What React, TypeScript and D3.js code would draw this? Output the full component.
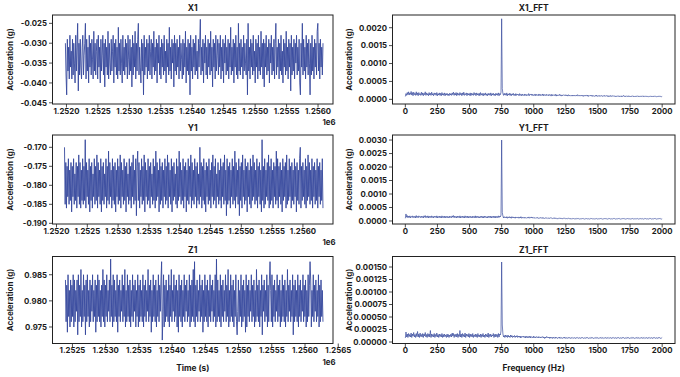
import React from "react";
import * as d3 from "d3";

// ---------------- DATA ----------------
// Time-domain signals, uniformly sampled between start/end times (s).
// Values are in milli-g (mg).
const MG = 0.001;
const X1_T = [1251983, 1256079];
const Y1_T = [1252130, 1256325];
const Z1_T = [1252395, 1256270];

const X1_MG = [
  -30,-38,-43,-29,-37,-31,-39,-28,-36,-32, -39,-29,-38,-30,-35,-40,-28,-37,-31,-25,
  -42,-30,-38,-29,-36,-39,-31,-28,-38,-33, -30,-25,-39,-29,-37,-31,-40,-28,-36,-30,
  -38,-29,-34,-39,-27,-37,-30,-38,-32,-29, -39,-28,-36,-31,-40,-29,-37,-33,-28,-38,
  -30,-41,-29,-36,-31,-38,-27,-39,-30,-35, -38,-29,-37,-32,-28,-40,-30,-36,-29,-38,
  -31,-39,-26,-37,-30,-38,-29,-35,-40,-28, -37,-31,-38,-29,-36,-30,-39,-28,-34,-38,
  -29,-37,-31,-41,-28,-38,-30,-36,-27,-39, -30,-37,-29,-25,-38,-31,-36,-40,-29,-37,
  -30,-43,-28,-38,-31,-36,-29,-39,-30,-37, -28,-38,-32,-29,-39,-30,-36,-27,-38,-31,
  -37,-29,-40,-30,-35,-28,-38,-31,-39,-29, -36,-30,-38,-28,-37,-32,-40,-29,-36,-30,
  -38,-26,-37,-31,-39,-29,-35,-30,-41,-28, -37,-30,-38,-29,-36,-31,-39,-28,-37,-30,
  -34,-39,-29,-38,-30,-36,-27,-40,-31,-37, -29,-38,-30,-43,-28,-37,-31,-39,-29,-36,
  -30,-38,-28,-37,-32,-39,-29,-36,-30,-24, -38,-31,-37,-29,-40,-30,-35,-28,-38,-31,
  -39,-29,-36,-30,-38,-27,-37,-31,-41,-29, -36,-30,-39,-28,-37,-33,-29,-38,-30,-36,
  -28,-39,-31,-37,-29,-40,-30,-35,-28,-38, -31,-37,-29,-39,-30,-36,-26,-38,-31,-37,
  -29,-40,-30,-36,-28,-38,-31,-39,-25,-37, -30,-38,-29,-36,-31,-39,-28,-37,-30,-35,
  -38,-29,-43,-25,-37,-31,-39,-29,-36,-30, -38,-28,-37,-32,-40,-29,-36,-30,-39,-28,
  -37,-31,-38,-27,-36,-30,-39,-29,-41,-30, -36,-28,-38,-31,-37,-29,-40,-30,-35,-28,
  -38,-31,-37,-29,-39,-30,-25,-38,-31,-36, -29,-39,-30,-37,-28,-38,-32,-40,-29,-36,
  -30,-38,-27,-37,-31,-39,-29,-36,-30,-42, -28,-38,-31,-37,-29,-39,-30,-35,-28,-38,
  -31,-37,-29,-40,-43,-30,-36,-25,-38,-29, -37,-31,-39,-28,-36,-30,-38,-29,-35,-43,
  -30,-38,-28,-37,-31,-39,-29,-36,-30,-38, -27,-25,-37,-30,-39,-29,-36,-31,-38,-30,
];

const Y1_MG = [
  -170,-185,-174,-186,-175,-183,-173,-185,-176,-184, -174,-187,-175,-183,-173,-185,-177,-184,-174,-186,
  -175,-183,-172,-185,-174,-186,-176,-184,-173,-185, -175,-184,-168,-186,-174,-183,-176,-185,-173,-187,
  -175,-184,-174,-186,-177,-183,-173,-185,-175,-184, -172,-186,-174,-183,-176,-185,-173,-187,-175,-184,
  -174,-185,-177,-183,-173,-186,-175,-184,-171,-185, -174,-183,-176,-186,-173,-184,-175,-185,-174,-187,
  -176,-183,-173,-185,-175,-184,-172,-186,-174,-183, -176,-185,-173,-184,-175,-187,-174,-183,-177,-185,
  -173,-184,-175,-186,-174,-183,-172,-185,-176,-184, -173,-188,-175,-171,-184,-174,-186,-176,-183,-173,
  -185,-175,-184,-172,-187,-174,-183,-176,-185,-173, -184,-175,-186,-174,-183,-177,-185,-173,-184,-175,
  -186,-171,-184,-174,-183,-176,-187,-173,-185,-175, -184,-174,-186,-176,-183,-173,-185,-175,-184,-172,
  -186,-174,-183,-176,-185,-173,-187,-175,-184,-174, -183,-177,-185,-173,-186,-175,-184,-171,-183,-174,
  -185,-176,-184,-173,-186,-175,-183,-174,-187,-176, -184,-173,-185,-175,-183,-172,-186,-174,-184,-176,
  -185,-173,-183,-175,-186,-174,-184,-177,-185,-170, -183,-174,-186,-175,-184,-173,-185,-176,-187,-174,
  -183,-175,-185,-173,-184,-176,-186,-174,-183,-172, -185,-175,-184,-173,-186,-177,-183,-174,-185,-176,
  -184,-173,-186,-175,-183,-174,-185,-172,-184,-176, -188,-173,-185,-175,-184,-174,-186,-176,-183,-173,
  -185,-175,-184,-171,-186,-174,-183,-176,-185,-173, -188,-175,-184,-174,-186,-172,-183,-176,-185,-173,
  -184,-175,-187,-174,-183,-176,-185,-173,-186,-175, -184,-172,-183,-174,-185,-176,-184,-173,-186,-175,
  -183,-174,-185,-176,-187,-168,-184,-175,-186,-173, -185,-176,-183,-174,-184,-172,-186,-175,-185,-173,
  -184,-176,-186,-174,-183,-175,-185,-171,-184,-173, -186,-175,-183,-174,-185,-176,-187,-173,-184,-175,
  -183,-174,-186,-172,-185,-176,-184,-173,-183,-175, -186,-174,-184,-176,-185,-173,-183,-175,-187,-174,
  -184,-176,-185,-173,-170,-186,-175,-184,-174,-183, -176,-185,-173,-186,-175,-184,-172,-183,-174,-185,
  -176,-184,-173,-186,-175,-183,-174,-185,-176,-184, -173,-186,-175,-183,-174,-185,-176,-184,-173,-186,
];

const Z1_MG = [
  984,976,983,974,985,977,982,975,984,976, 983,977,985,975,984,976,982,978,984,973.5,
  985,976,983,977,986,975,982,976,985,977, 983,973.5,984,976,985,977,982,975,984,976,
  983,978,985,976,982,977,984,974,983,976, 985,977,984,976,982,975,983,977,986,976,
  984,975,983,977,985,976,982,978,984,976, 988,977,983,975,985,976,984,977,982,976,
  985,974,983,977,984,976,982,978,985,976, 983,977,986,975,982,976,985,977,983,976,
  984,975,982,977,985,976,983,978,984,975, 982,977,985,975,983,976,984,977,982,976,
  985,975,983,977,984,976,982,978,986,976, 983,977,984,974,982,976,985,977,983,976,
  984,975,982,977,985,976,983,978,984,987.5, 972.5,977,985,975,983,976,984,977,982,976,
  985,975,983,977,986,976,982,978,985,976, 983,977,984,975,982,974,985,977,983,976,
  984,975,982,977,985,976,983,978,984,976, 982,977,985,975,983,976,984,977,986,976,
  987.5,975,983,977,984,976,982,978,985,976, 983,977,984,974,982,976,985,977,983,976,
  984,975,982,977,985,976,983,978,984,976, 982,977,985,975,988,976,984,977,982,976,
  985,975,983,977,984,976,982,978,985,976, 983,977,986,975,982,976,985,977,983,976,
  984,975,982,977,985,976,973.5,978,984,976, 982,977,985,975,983,976,984,977,982,974,
  985,975,983,977,984,976,982,978,985,976, 983,977,984,975,982,976,986,977,983,976,
  984,975,982,977,985,973.5,983,978,984,976, 982,977,985,975,983,976,984,987.5,982,976,
  985,975,983,977,984,976,982,978,985,976, 983,977,984,975,982,976,985,977,983,976,
  984,975,982,977,986,976,983,978,984,976, 982,977,985,973.5,983,976,984,977,982,976,
  985,975,983,977,984,976,982,978,985,976, 983,977,984,975,982,976,985,977,983,987.5,
  984,975,982,977,985,976,983,978,984,976, 982,977,985,975,983,976,984,977,982,976,
];

// FFT spectra, frequencies 0..2000 Hz in 5 Hz bins. Values in 1e-5 g.
const FFT_UNIT = 1e-5;
const FFT_F = [0, 2000];

const X1_FFT = [
  8,16,11,19,13,21,12,18,14,22,12,19,10,20,13,17,11,21,12,18,
  10,19,13,16,11,20,12,18,10,17,13,21,11,18,12,16,10,19,12,17,
  11,20,12,16,10,18,13,17,11,19,10,16,12,18,11,17,10,19,12,16,
  11,18,10,16,12,17,11,15,10,17,12,16,11,18,13,20,11,17,12,19,
  10,18,12,16,11,19,13,17,10,18,12,20,11,16,13,18,10,17,12,16,
  11,18,10,17,12,16,11,19,13,17,10,18,12,16,11,17,10,19,12,16,
  11,17,10,16,12,18,11,15,10,17,12,16,11,18,10,16,12,17,11,15,
  10,17,12,16,11,18,10,16,13,20,
  225,
  30,16,11,17,12,16,11,18,10,15, 12,17,11,16,10,15,12,17,11,14, 10,16,11,15,12,14,10,16,11,14,
  10,15,11,13,10,15,11,14,10,13, 11,16,10,14,12,15,11,14,10,13, 11,15,10,14,11,13,10,15,11,14,
  10,13,11,15,10,14,11,13,10,14, 11,13,10,14,11,13,9,14,10,13, 11,13,10,14,9,13,10,12,11,14,
  10,13,9,12,10,13,11,12,10,13,
  10,12,9,13,10,12,9,11,10,12, 9,12,10,11,9,12,10,13,9,11, 10,12,9,11,10,12,8,11,9,12,
  10,11,9,12,8,11,9,11,10,12, 8,11,9,10,8,11,9,12,8,10, 9,11,8,10,9,11,8,10,9,11,
  8,10,9,11,8,10,7,10,8,11, 8,10,9,10,8,10,7,9,8,10, 8,10,7,9,8,10,7,9,8,11,
  8,9,7,10,8,9,7,10,8,9, 7,9,8,10,7,9,8,9,7,9, 8,10,7,9,8,9,7,9,8,10,
  7,9,8,9,7,9,8,9,7,8, 8,9,7,9,8,9,7,9,8,9, 7,8,8,9,7,9,8,9,7,8,
];

const Y1_FFT = [
  10,26,14,20,12,18,13,19,11,17,14,19,12,17,13,18,11,20,13,17,
  12,19,14,17,12,18,13,17,11,19,14,20,12,17,13,19,11,18,13,17,
  12,19,13,17,11,18,14,17,12,19,11,17,13,18,12,17,11,19,13,17,
  12,18,11,17,13,18,12,16,11,18,13,17,12,19,14,20,12,18,13,17,
  11,18,13,17,12,19,11,17,13,18,12,17,11,19,13,17,12,18,11,17,
  13,18,12,16,11,18,13,17,12,19,11,17,13,18,12,16,11,17,13,18,
  12,17,11,18,13,17,12,16,11,18,13,17,12,18,11,17,13,18,12,17,
  11,18,13,17,12,19,13,18,15,22,
  300,
  32,18,11,16,12,15,11,16,10,15, 12,16,11,15,10,16,12,15,11,14, 10,15,11,14,12,15,10,14,11,16,
  10,14,11,13,10,14,11,13,10,13, 11,15,10,14,12,15,11,14,10,13, 11,13,10,12,11,13,9,12,10,13,
  11,12,9,13,10,12,9,12,10,11, 9,12,10,11,9,12,10,11,9,11, 10,12,8,11,9,11,8,10,9,11,
  8,10,9,11,8,10,9,10,8,10,
  9,10,8,10,8,9,8,10,7,9, 8,9,7,9,8,10,7,9,8,9, 7,9,8,9,7,9,8,9,7,9,
  8,9,7,8,8,9,7,9,8,9, 7,9,8,9,7,8,8,9,7,9, 8,9,7,9,8,9,7,8,8,9,
  7,9,8,9,7,9,8,9,7,8, 8,9,7,9,8,9,7,8,8,9, 7,9,8,9,7,8,8,9,7,9,
  8,9,7,8,8,9,7,9,8,9, 7,8,8,9,7,9,8,9,7,8, 8,9,7,9,8,9,7,8,8,9,
  7,9,8,9,7,8,8,9,7,9, 8,9,7,8,8,9,7,9,8,9, 7,8,8,9,7,9,8,9,7,8,
];

const Z1_FFT = [
  8,20,10,16,9,17,11,15,10,18, 9,16,12,19,10,15,9,17,11,21, 10,16,9,18,11,15,10,17,9,16, 12,19,10,15,9,17,11,16,10,23,
  9,16,11,15,10,17,9,15,11,18, 10,15,9,16,11,15,10,17,9,15, 10,16,11,14,9,16,10,15,9,14, 11,16,10,18,12,17,9,15,11,16,
  10,17,9,15,11,23,10,16,9,17, 11,15,10,18,9,16,12,15,10,17, 9,16,11,15,10,17,9,14,11,16, 10,15,9,17,11,14,10,16,9,15,
  11,17,10,14,9,16,11,15,10,18, 9,15,11,16,10,14,12,17,9,15, 10,16,11,15,9,17,10,16,14,22,
  160,
  34,16,10,13,9,14,10,13,9,14, 10,12,9,14,10,13,9,12,10,13, 9,12,10,13,9,12,10,12,8,12,
  9,11,10,12,9,11,8,12,9,11, 8,11,9,12,8,11,9,10,8,12, 9,10,8,11,9,10,8,11,9,10,
  8,10,9,11,8,10,7,10,8,11, 9,10,8,10,7,10,8,9,7,10, 8,9,7,10,8,9,7,9,8,10,
  7,9,8,9,7,9,8,10,7,9,
  8,9,7,9,8,9,7,9,8,9, 7,8,8,9,7,9,8,9,7,8, 8,9,7,9,8,9,7,8,8,9,
  7,9,8,9,7,8,8,9,7,9, 8,9,7,8,8,9,7,9,8,9, 7,8,8,9,7,9,8,9,7,8,
  8,9,7,9,8,9,7,8,8,9, 7,9,8,9,7,8,8,9,7,9, 8,9,7,8,8,9,7,9,8,9,
  7,8,8,9,7,9,8,9,7,8, 8,9,7,9,8,9,7,8,8,9, 7,9,8,9,7,8,8,9,7,9,
  8,9,7,8,8,9,7,9,8,9, 7,8,8,9,7,9,8,9,7,8, 8,9,7,9,8,9,7,8,8,9,
];

// Tick values
const X1_TIME_TICKS = [1252000, 1252500, 1253000, 1253500, 1254000, 1254500, 1255000, 1255500, 1256000];
const Y1_TIME_TICKS = [1252000, 1252500, 1253000, 1253500, 1254000, 1254500, 1255000, 1255500, 1256000];
const Z1_TIME_TICKS = [1252500, 1253000, 1253500, 1254000, 1254500, 1255000, 1255500, 1256000, 1256500];
const FREQ_TICKS = [0, 250, 500, 750, 1000, 1250, 1500, 1750, 2000];
const X1_Y_TICKS = [-0.045, -0.04, -0.035, -0.03, -0.025];
const Y1_Y_TICKS = [-0.19, -0.185, -0.18, -0.175, -0.17];
const Z1_Y_TICKS = [0.975, 0.98, 0.985];
const X1F_Y_TICKS = [0, 0.0005, 0.001, 0.0015, 0.002];
const Y1F_Y_TICKS = [0, 0.0005, 0.001, 0.0015, 0.002, 0.0025, 0.003];
const Z1F_Y_TICKS = [0, 0.00025, 0.0005, 0.00075, 0.001, 0.00125, 0.0015];

// ---------------- RENDERING ----------------
const FONT = "Inter, 'DejaVu Sans', sans-serif";
const LINE_COLOR = "#34479c";
const TEXT_COLOR = "#1a1a1a";
const TICK_FS = 7.8;

type PanelProps = {
  id: string;
  left: number; right: number; top: number; bottom: number;
  xDomain: [number, number]; yDomain: [number, number];
  xTicks: number[]; yTicks: number[];
  xFmt: (v: number) => string; yFmt: (v: number) => string;
  title: string; values: number[]; unit: number; span: number[];
  offsetText?: string; xLabel?: string; labelX: number;
  strokeWidth: number; opacity: number;
};

function Panel(p: PanelProps) {
  const xs = d3.scaleLinear().domain(p.xDomain).range([p.left, p.right]);
  const ys = d3.scaleLinear().domain(p.yDomain).range([p.bottom, p.top]);
  const n = p.values.length;
  const t = d3.scaleLinear().domain([0, n - 1]).range(p.span);
  const path = d3
    .line<number>()
    .x((_, i) => xs(t(i)))
    .y((v) => ys(v * p.unit))(p.values) || "";
  const cx = (p.left + p.right) / 2;
  const cy = (p.top + p.bottom) / 2;
  return (
    <g fontFamily={FONT} fill={TEXT_COLOR}>
      <defs>
        <clipPath id={`clip-${p.id}`}>
          <rect x={p.left} y={p.top} width={p.right - p.left} height={p.bottom - p.top} />
        </clipPath>
      </defs>
      <path d={path} fill="none" stroke={LINE_COLOR} strokeWidth={p.strokeWidth} strokeOpacity={p.opacity}
        strokeLinejoin="miter" clipPath={`url(#clip-${p.id})`} />
      <rect x={p.left} y={p.top} width={p.right - p.left} height={p.bottom - p.top}
        fill="none" stroke="#222" strokeWidth={1} />
      {p.xTicks.map((v) => (
        <g key={"x" + v}>
          <line x1={xs(v)} x2={xs(v)} y1={p.bottom} y2={p.bottom + 3.5} stroke="#222" strokeWidth={0.8} />
          <text x={xs(v)} y={p.bottom + 9.5} textAnchor="middle" fontSize={TICK_FS} fontWeight={700}>{p.xFmt(v)}</text>
        </g>
      ))}
      {p.yTicks.map((v) => (
        <g key={"y" + v}>
          <line x1={p.left - 3.5} x2={p.left} y1={ys(v)} y2={ys(v)} stroke="#222" strokeWidth={0.8} />
          <text x={p.left - 5.5} y={ys(v) + 2.8} textAnchor="end" fontSize={TICK_FS} fontWeight={700}>{p.yFmt(v)}</text>
        </g>
      ))}
      <text x={cx} y={p.top - 4} textAnchor="middle" fontSize={8.5} fontWeight={700}>{p.title}</text>
      <text transform={`translate(${p.labelX},${cy}) rotate(-90)`} textAnchor="middle" fontSize={8} fontWeight={700}>
        Acceleration (g)
      </text>
      {p.offsetText && (
        <text x={p.right - 4} y={p.bottom + 21} textAnchor="middle" fontSize={7.8} fontWeight={700}>{p.offsetText}</text>
      )}
      {p.xLabel && (
        <text x={cx} y={p.bottom + 27} textAnchor="middle" fontSize={8.3} fontWeight={700}>{p.xLabel}</text>
      )}
    </g>
  );
}

const fmtTime = (v: number) => (v / 1e6).toFixed(4);
const fmt3 = (v: number) => v.toFixed(3);
const fmt4 = (v: number) => v.toFixed(4);
const fmt5 = (v: number) => v.toFixed(5);
const fmtInt = (v: number) => String(v);

export default function App() {
  const L = { left: 52.5, right: 333, labelX: 13 };
  const R = { left: 392.5, right: 675, labelX: 351.5 };
  const rows = [
    { top: 15, bottom: 104 },
    { top: 135, bottom: 224 },
    { top: 256.5, bottom: 343.5 },
  ];
  return (
    <svg width={680} height={377} style={{ position: "absolute", left: 0, top: 0, background: "#fff" }}>
      <rect width={680} height={377} fill="#fff" />
      <Panel id="x1" {...L} {...rows[0]} xDomain={[1251778, 1256238]} yDomain={[-0.0453, -0.0229]}
        xTicks={X1_TIME_TICKS} yTicks={X1_Y_TICKS} xFmt={fmtTime} yFmt={fmt3}
        title="X1" values={X1_MG} unit={MG} span={X1_T} offsetText="1e6" strokeWidth={1} opacity={0.88} />
      <Panel id="y1" {...L} {...rows[1]} xDomain={[1251935, 1256488]} yDomain={[-0.19018, -0.16676]}
        xTicks={Y1_TIME_TICKS} yTicks={Y1_Y_TICKS} xFmt={fmtTime} yFmt={fmt3}
        title="Y1" values={Y1_MG} unit={MG} span={Y1_T} offsetText="1e6" strokeWidth={1} opacity={0.88} />
      <Panel id="z1" {...L} {...rows[2]} xDomain={[1252200, 1256421]} yDomain={[0.97184, 0.98849]}
        xTicks={Z1_TIME_TICKS} yTicks={Z1_Y_TICKS} xFmt={fmtTime} yFmt={fmt3}
        title="Z1" values={Z1_MG} unit={MG} span={Z1_T} offsetText="1e6" xLabel="Time (s)" strokeWidth={1} opacity={0.88} />
      <Panel id="x1f" {...R} {...rows[0]} xDomain={[-100, 2100]} yDomain={[-0.00013, 0.002355]}
        xTicks={FREQ_TICKS} yTicks={X1F_Y_TICKS} xFmt={fmtInt} yFmt={fmt4}
        title="X1_FFT" values={X1_FFT} unit={FFT_UNIT} span={FFT_F} strokeWidth={0.8} opacity={0.85} />
      <Panel id="y1f" {...R} {...rows[1]} xDomain={[-100, 2100]} yDomain={[-0.000112, 0.003187]}
        xTicks={FREQ_TICKS} yTicks={Y1F_Y_TICKS} xFmt={fmtInt} yFmt={fmt4}
        title="Y1_FFT" values={Y1_FFT} unit={FFT_UNIT} span={FFT_F} strokeWidth={0.8} opacity={0.85} />
      <Panel id="z1f" {...R} {...rows[2]} xDomain={[-100, 2100]} yDomain={[-0.00003, 0.00171]}
        xTicks={FREQ_TICKS} yTicks={Z1F_Y_TICKS} xFmt={fmtInt} yFmt={fmt5}
        title="Z1_FFT" values={Z1_FFT} unit={FFT_UNIT} span={FFT_F} xLabel="Frequency (Hz)" strokeWidth={0.8} opacity={0.85} />
    </svg>
  );
}
